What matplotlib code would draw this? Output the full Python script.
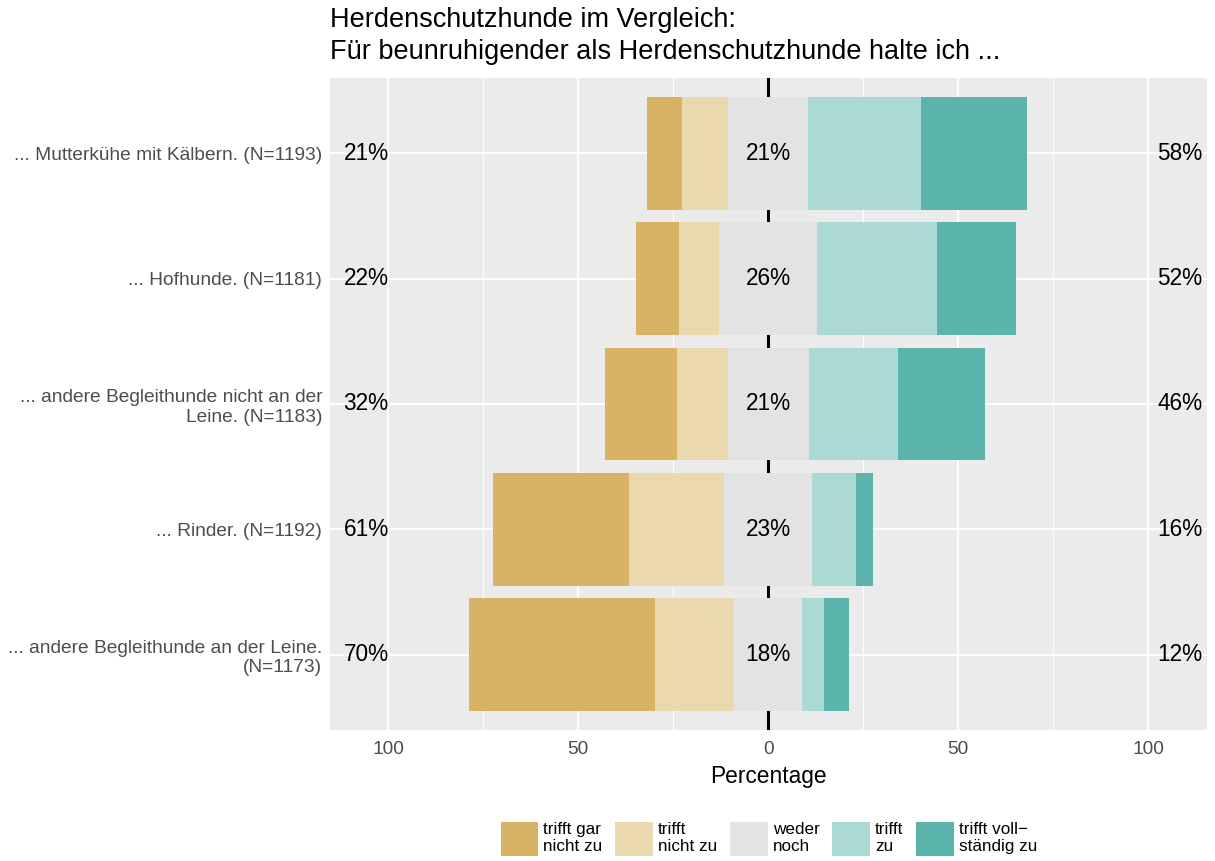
import matplotlib
matplotlib.use("Agg")
import matplotlib.pyplot as plt
from matplotlib.patches import Patch
import numpy as np

plt.rcParams['font.family'] = ['Liberation Sans', 'DejaVu Sans']

items = ["... Mutterkühe mit Kälbern. (N=1193)",
         "... Hofhunde. (N=1181)",
         "... andere Begleithunde nicht an der\nLeine. (N=1183)",
         "... Rinder. (N=1192)",
         "... andere Begleithunde an der Leine.\n(N=1173)"]
levels = ["trifft gar\nnicht zu", "trifft\nnicht zu", "weder\nnoch", "trifft\nzu", "trifft voll\u2212\nständig zu"]
gar_nicht = [9.2, 11.2, 18.9, 35.8, 49.0]
nicht = [12.1, 10.6, 13.3, 25.0, 20.8]
weder = [21.1, 25.9, 21.3, 23.0, 18.0]
zu = [29.7, 31.6, 23.4, 11.7, 5.8]
voll = [27.9, 20.7, 22.9, 4.5, 6.4]
xticks = [-100, -50, 0, 50, 100]
xticklabels = ["100", "50", "0", "50", "100"]
colors = ["#D8B365", "#EAD8AE", "#E3E3E3", "#ABD9D4", "#5AB4AC"]

W, H = 1215, 861
fig = plt.figure(figsize=(W / 100, H / 100), dpi=100)
ax = fig.add_axes([330 / W, (H - 730) / H, (1207 - 330) / W, (730 - 78) / H])
ax.set_facecolor("#EBEBEB")

y = np.arange(len(items))
g = np.array(gar_nicht); n = np.array(nicht); w = np.array(weder)
z = np.array(zu); v = np.array(voll)
h = 0.9
ax.axvline(0, color="black", lw=2.2, zorder=1)
ax.barh(y, g, left=-(w / 2 + n + g), height=h, color=colors[0], zorder=2)
ax.barh(y, n, left=-(w / 2 + n), height=h, color=colors[1], zorder=2)
ax.barh(y, w, left=-w / 2, height=h, color=colors[2], zorder=2)
ax.barh(y, z, left=w / 2, height=h, color=colors[3], zorder=2)
ax.barh(y, v, left=w / 2 + z, height=h, color=colors[4], zorder=2)

left_pct = np.round(g + n).astype(int)
mid_pct = np.round(w).astype(int)
right_pct = np.round(z + v).astype(int)
for i in range(len(items)):
    ax.text(-105.8, y[i], f"{left_pct[i]}%", ha="center", va="center", fontsize=16.3, color="black", zorder=3)
    ax.text(0, y[i], f"{mid_pct[i]}%", ha="center", va="center", fontsize=16.3, color="black", zorder=3)
    ax.text(108.4, y[i], f"{right_pct[i]}%", ha="center", va="center", fontsize=16.3, color="black", zorder=3)

ax.set_xlim(-115.3, 115.5)
ax.set_ylim(len(items) - 0.4, -0.6)
ax.set_xticks(xticks)
ax.set_xticklabels(xticklabels)
ax.set_xticks([-75, -25, 25, 75], minor=True)
ax.set_yticks(y)
ax.set_yticklabels(items)
ax.grid(True, which="major", color="white", lw=1.4, zorder=0)
ax.grid(True, which="minor", axis="x", color="white", lw=0.7, zorder=0)
ax.set_axisbelow(True)
for s in ax.spines.values():
    s.set_visible(False)
ax.tick_params(axis="both", which="both", length=0, labelsize=13.8, labelcolor="#4D4D4D")
ax.tick_params(axis="x", pad=8)
ax.tick_params(axis="y", pad=5.5)
ax.set_xlabel("Percentage", fontsize=16.4, labelpad=5)

fig.text(330 / W, 1 - 7 / H, "Herdenschutzhunde im Vergleich:\nFür beunruhigender als Herdenschutzhunde halte ich ...",
         ha="left", va="top", fontsize=19.5, linespacing=1.3)

handles = [Patch(facecolor=c, edgecolor="none") for c in colors]
leg = fig.legend(handles, levels, loc="center", bbox_to_anchor=(769 / W, 1 - 839 / H), ncol=5,
                 frameon=False, fontsize=12.3, handlelength=2.2, handleheight=2.7,
                 handletextpad=0.3, columnspacing=0.75, labelspacing=0.2)
for t in leg.get_texts():
    t.set_multialignment("left")

fig.savefig("out.png", dpi=100)
